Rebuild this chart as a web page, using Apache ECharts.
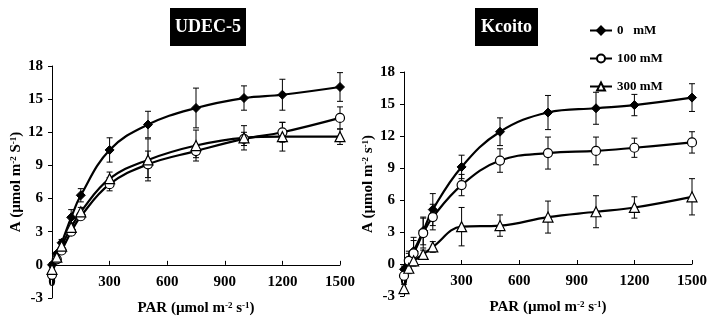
<!DOCTYPE html>
<html>
<head>
<meta charset="utf-8">
<script src="https://cdn.jsdelivr.net/npm/echarts@6/dist/echarts.min.js"></script>
<style>
  html, body { margin: 0; padding: 0; background: #fff; }
  #chart { width: 708px; height: 321px; }
</style>
</head>
<body>
<div id="chart"></div>
<script>
// PAR levels (µmol m-2 s-1)
const par = [0, 25, 50, 100, 150, 300, 500, 750, 1000, 1200, 1500]
const seriesNames = ['0   mM', '100 mM', '300 mM']
const xTicks = [0, 300, 600, 900, 1200, 1500]
const yTicks = [-3, 0, 3, 6, 9, 12, 15, 18]

// UDEC-5
const udec0 = [0.0, 1.0, 2.0, 4.3, 6.3, 10.4, 12.7, 14.2, 15.1, 15.4, 16.1]
const udec0Err = [0.2, 0.2, 0.3, 0.7, 0.6, 1.1, 1.2, 1.8, 1.1, 1.4, 1.3]
const udec100 = [-0.9, 0.5, 1.3, 3.0, 4.4, 7.3, 9.1, 10.3, 11.4, 12.0, 13.3]
const udec100Err = [0.3, 0.2, 0.2, 0.3, 0.3, 0.6, 1.2, 0.6, 0.6, 0.9, 1.0]
const udec300 = [-0.4, 0.7, 1.7, 3.4, 4.8, 7.8, 9.5, 10.8, 11.5, 11.6, 11.6]
const udec300Err = [0.2, 0.2, 0.3, 0.4, 0.4, 0.6, 1.9, 1.4, 1.1, 1.3, 0.7]

// Kcoito
const kc0 = [-0.5, 0.4, 1.2, 3.1, 5.1, 9.1, 12.4, 14.2, 14.6, 14.9, 15.6]
const kc0Err = [0.3, 0.8, 1.3, 1.3, 1.5, 1.1, 1.3, 1.6, 1.5, 1.0, 1.3]
const kc100 = [-1.1, 0.3, 1.0, 2.9, 4.4, 7.4, 9.7, 10.4, 10.6, 10.9, 11.4]
const kc100Err = [0.3, 0.7, 1.2, 1.4, 1.2, 1.0, 1.1, 1.5, 1.3, 0.9, 1.0]
const kc300 = [-2.3, -0.4, 0.3, 0.9, 1.6, 3.5, 3.6, 4.4, 4.9, 5.3, 6.3]
const kc300Err = [0.4, 0.5, 0.4, 0.4, 0.5, 1.8, 1.0, 1.5, 1.5, 1.0, 1.7]

const font = 'Liberation Serif'
const Y_MIN = -3, Y_MAX = 18
const grids = [
  { left: 52, top: 66, width: 288, height: 232 },
  { left: 404, top: 72, width: 288, height: 224 },
]
const markers = [
  { symbol: 'diamond', symbolSize: 9, itemStyle: { color: '#000', borderColor: '#000', borderWidth: 1 } },
  { symbol: 'circle', symbolSize: 9, itemStyle: { color: '#fff', borderColor: '#000', borderWidth: 1.2 } },
  { symbol: 'triangle', symbolSize: 10, itemStyle: { color: '#fff', borderColor: '#000', borderWidth: 1.2 } },
]

const chart = echarts.init(document.getElementById('chart'))

function lineSeries(idx, name, values, k) {
  return Object.assign({
    name: name,
    type: 'line',
    xAxisIndex: idx,
    yAxisIndex: idx,
    smooth: 0.4,
    data: par.map((p, i) => [p, values[i]]),
    lineStyle: { color: '#000', width: 2.2 },
    z: 3,
  }, markers[k])
}

function errSeries(idx, values, errs) {
  return {
    type: 'custom',
    xAxisIndex: idx,
    yAxisIndex: idx,
    z: 2,
    silent: true,
    data: par.map((p, i) => [p, values[i], errs[i]]),
    renderItem: function (params, api) {
      const x = api.value(0), y = api.value(1), e = api.value(2)
      const top = api.coord([x, y + e])
      const bot = api.coord([x, y - e])
      const style = { stroke: '#000', lineWidth: 1 }
      return {
        type: 'group',
        children: [
          { type: 'line', shape: { x1: top[0], y1: top[1], x2: bot[0], y2: bot[1] }, style: style },
          { type: 'line', shape: { x1: top[0] - 3, y1: top[1], x2: top[0] + 3, y2: top[1] }, style: style },
          { type: 'line', shape: { x1: bot[0] - 3, y1: bot[1], x2: bot[0] + 3, y2: bot[1] }, style: style },
        ],
      }
    },
  }
}

const nameRich = {
  n: { fontFamily: font, fontWeight: 'bold', fontSize: 15, color: '#000' },
  s: { fontFamily: font, fontWeight: 'bold', fontSize: 9, color: '#000', verticalAlign: 'top' },
}

function xAxis(idx) {
  // x axis crosses the y axis at A = 0
  const zeroOffset = -grids[idx].height * (0 - Y_MIN) / (Y_MAX - Y_MIN)
  return {
    type: 'value',
    gridIndex: idx,
    min: 0,
    max: 1500,
    interval: 300,
    offset: zeroOffset,
    axisLine: { onZero: false, lineStyle: { color: '#000', width: 1 } },
    axisTick: { inside: true, length: 4, lineStyle: { color: '#000' } },
    axisLabel: {
      margin: 10,
      color: '#000',
      fontFamily: font,
      fontWeight: 'bold',
      fontSize: 15,
      formatter: (v) => (xTicks.includes(v) ? String(v) : ''),
    },
    splitLine: { show: false },
    name: '{n|PAR (µmol m}{s|-2}{n| s}{s|-1}{n|)}',
    nameLocation: 'middle',
    nameGap: 36,
    nameTextStyle: { rich: nameRich },
  }
}

function yAxis(idx, sLetter) {
  return {
    type: 'value',
    gridIndex: idx,
    min: Y_MIN,
    max: Y_MAX,
    interval: 3,
    axisLine: { show: true, onZero: false, lineStyle: { color: '#000', width: 1 } },
    axisTick: { show: true, length: 4, lineStyle: { color: '#000' } },
    axisLabel: {
      margin: 9,
      color: '#000',
      fontFamily: font,
      fontWeight: 'bold',
      fontSize: 15,
      formatter: (v) => (yTicks.includes(v) ? String(v) : ''),
    },
    splitLine: { show: false },
    name: '{n|A (µmol m}{s|-2}{n| ' + sLetter + '}{s|-1}{n|)}',
    nameLocation: 'middle',
    nameRotate: 90,
    nameGap: 25,
    nameTextStyle: { rich: nameRich },
  }
}

function titleBox(x, y, w, h, text) {
  return {
    type: 'group',
    left: x,
    top: y,
    children: [
      { type: 'rect', shape: { x: 0, y: 0, width: w, height: h }, style: { fill: '#000' } },
      {
        type: 'text',
        x: w / 2,
        y: h / 2,
        style: {
          text: text,
          fill: '#fff',
          font: 'bold 18px "Liberation Serif"',
          align: 'center',
          verticalAlign: 'middle',
        },
      },
    ],
  }
}

const option = {
  animation: false,
  backgroundColor: '#fff',
  grid: grids.map((g) => Object.assign({ outerBoundsMode: 'none', containLabel: false }, g)),
  xAxis: [xAxis(0), xAxis(1)],
  yAxis: [yAxis(0, 'S'), yAxis(1, 's')],
  legend: {
    data: seriesNames,
    orient: 'vertical',
    left: 584,
    top: 19,
    itemWidth: 22,
    itemHeight: 10,
    itemGap: 15,
    textStyle: { fontFamily: font, fontWeight: 'bold', fontSize: 13, color: '#000' },
  },
  graphic: [
    titleBox(170, 8, 76, 38, 'UDEC-5'),
    titleBox(475, 8, 63, 38, 'Kcoito'),
  ],
  series: [
    errSeries(0, udec0, udec0Err),
    errSeries(0, udec100, udec100Err),
    errSeries(0, udec300, udec300Err),
    errSeries(1, kc0, kc0Err),
    errSeries(1, kc100, kc100Err),
    errSeries(1, kc300, kc300Err),
    lineSeries(0, seriesNames[0], udec0, 0),
    lineSeries(0, seriesNames[1], udec100, 1),
    lineSeries(0, seriesNames[2], udec300, 2),
    lineSeries(1, seriesNames[0], kc0, 0),
    lineSeries(1, seriesNames[1], kc100, 1),
    lineSeries(1, seriesNames[2], kc300, 2),
  ],
}

chart.setOption(option)
</script>
</body>
</html>
